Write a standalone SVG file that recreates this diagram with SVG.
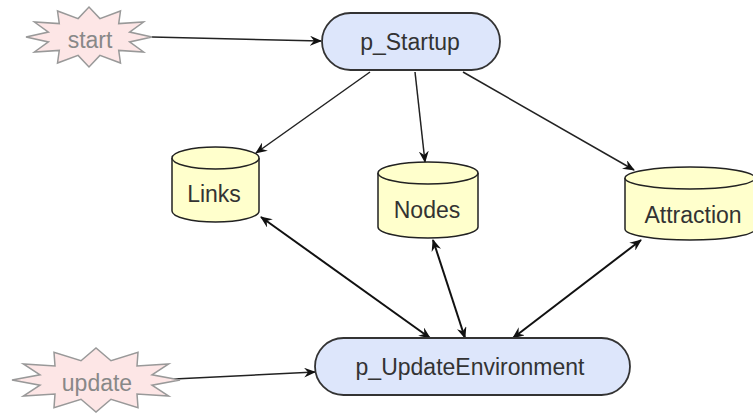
<svg xmlns="http://www.w3.org/2000/svg" width="753" height="413" viewBox="0 0 753 413">
<defs>
<style>
.star{fill:#fde6e6;stroke:#999;stroke-width:1.5}
.proc{fill:#dde6fb;stroke:#333;stroke-width:1.8}
.cyl{fill:#ffffcc;stroke:#222;stroke-width:1.5}
.t{font-family:"Liberation Sans",Arial,sans-serif;font-size:23px;fill:#333;text-anchor:middle}
.ts{font-family:"Liberation Sans",Arial,sans-serif;font-size:23px;fill:#888;text-anchor:middle}
.e{fill:none;stroke:#222;stroke-width:1.5}
.e2{fill:none;stroke:#111;stroke-width:2}
</style>
<marker id="ah" viewBox="0 0 12 10" refX="11" refY="5" markerWidth="12" markerHeight="10" markerUnits="userSpaceOnUse" orient="auto-start-reverse">
<path d="M0,0 L12,5 L0,10 L4,5 z" fill="#111"/>
</marker>
</defs>
<g id="connectors">
<line class="e" x1="152" y1="37" x2="321" y2="41" marker-end="url(#ah)"/>
<line class="e" x1="370" y1="72" x2="256" y2="153" marker-end="url(#ah)"/>
<line class="e" x1="415" y1="72" x2="425" y2="162" marker-end="url(#ah)"/>
<line class="e" x1="463" y1="72" x2="634" y2="170" marker-end="url(#ah)"/>
<line class="e2" x1="261" y1="217" x2="430" y2="338" marker-start="url(#ah)" marker-end="url(#ah)"/>
<line class="e2" x1="433" y1="240" x2="465" y2="338" marker-start="url(#ah)" marker-end="url(#ah)"/>
<line class="e2" x1="641" y1="240" x2="513" y2="338" marker-start="url(#ah)" marker-end="url(#ah)"/>
<line class="e" x1="174" y1="379" x2="315" y2="372" marker-end="url(#ah)"/>
</g>
<g id="start">
<polygon class="star" points="152,37 129.6,41.9 143.6,52 118.7,50.4 120.5,63 99.9,55.4 89,67 78.1,55.4 57.5,63 59.3,50.4 34.4,52 48.4,41.9 26,37 48.4,32.1 34.4,22 59.3,23.6 57.5,11 78.1,18.6 89,7 99.9,18.6 120.5,11 118.7,23.6 143.6,22 129.6,32.1"/>
<text class="ts" x="90" y="48">start</text>
</g>
<g id="update">
<polygon class="star" points="180,380 152,385.2 168.7,396 137,394.1 138,407.7 111,399.3 96,412 81,399.3 54,407.7 55,394.1 23.3,396 40,385.2 12,380 40,374.8 23.3,364 55,365.9 54,352.3 81,360.7 96,348 111,360.7 138,352.3 137,365.9 168.7,364 152,374.8"/>
<text class="ts" x="97" y="391">update</text>
</g>
<g id="p_Startup">
<rect class="proc" x="322" y="13" width="178" height="57" rx="28.5"/>
<text class="t" x="410" y="50">p_Startup</text>
</g>
<g id="p_UpdateEnvironment">
<rect class="proc" x="315" y="338" width="315" height="57" rx="28.5"/>
<text class="t" x="470" y="375">p_UpdateEnvironment</text>
</g>
<g id="Links">
<path class="cyl" d="M172,158 A43.5,11 0 0 1 259,158 V211 A43.5,11 0 0 1 172,211 Z"/>
<path class="cyl" fill="none" d="M172,158 A43.5,11 0 0 0 259,158"/>
<text class="t" x="214" y="202">Links</text>
</g>
<g id="Nodes">
<path class="cyl" d="M378,173 A50,11 0 0 1 478,173 V227 A50,11 0 0 1 378,227 Z"/>
<path class="cyl" fill="none" d="M378,173 A50,11 0 0 0 478,173"/>
<text class="t" x="427" y="218">Nodes</text>
</g>
<g id="Attraction">
<path class="cyl" d="M625,178 A65,11 0 0 1 755,178 V229 A65,11 0 0 1 625,229 Z"/>
<path class="cyl" fill="none" d="M625,178 A65,11 0 0 0 755,178"/>
<text class="t" x="693" y="223">Attraction</text>
</g>
</svg>
